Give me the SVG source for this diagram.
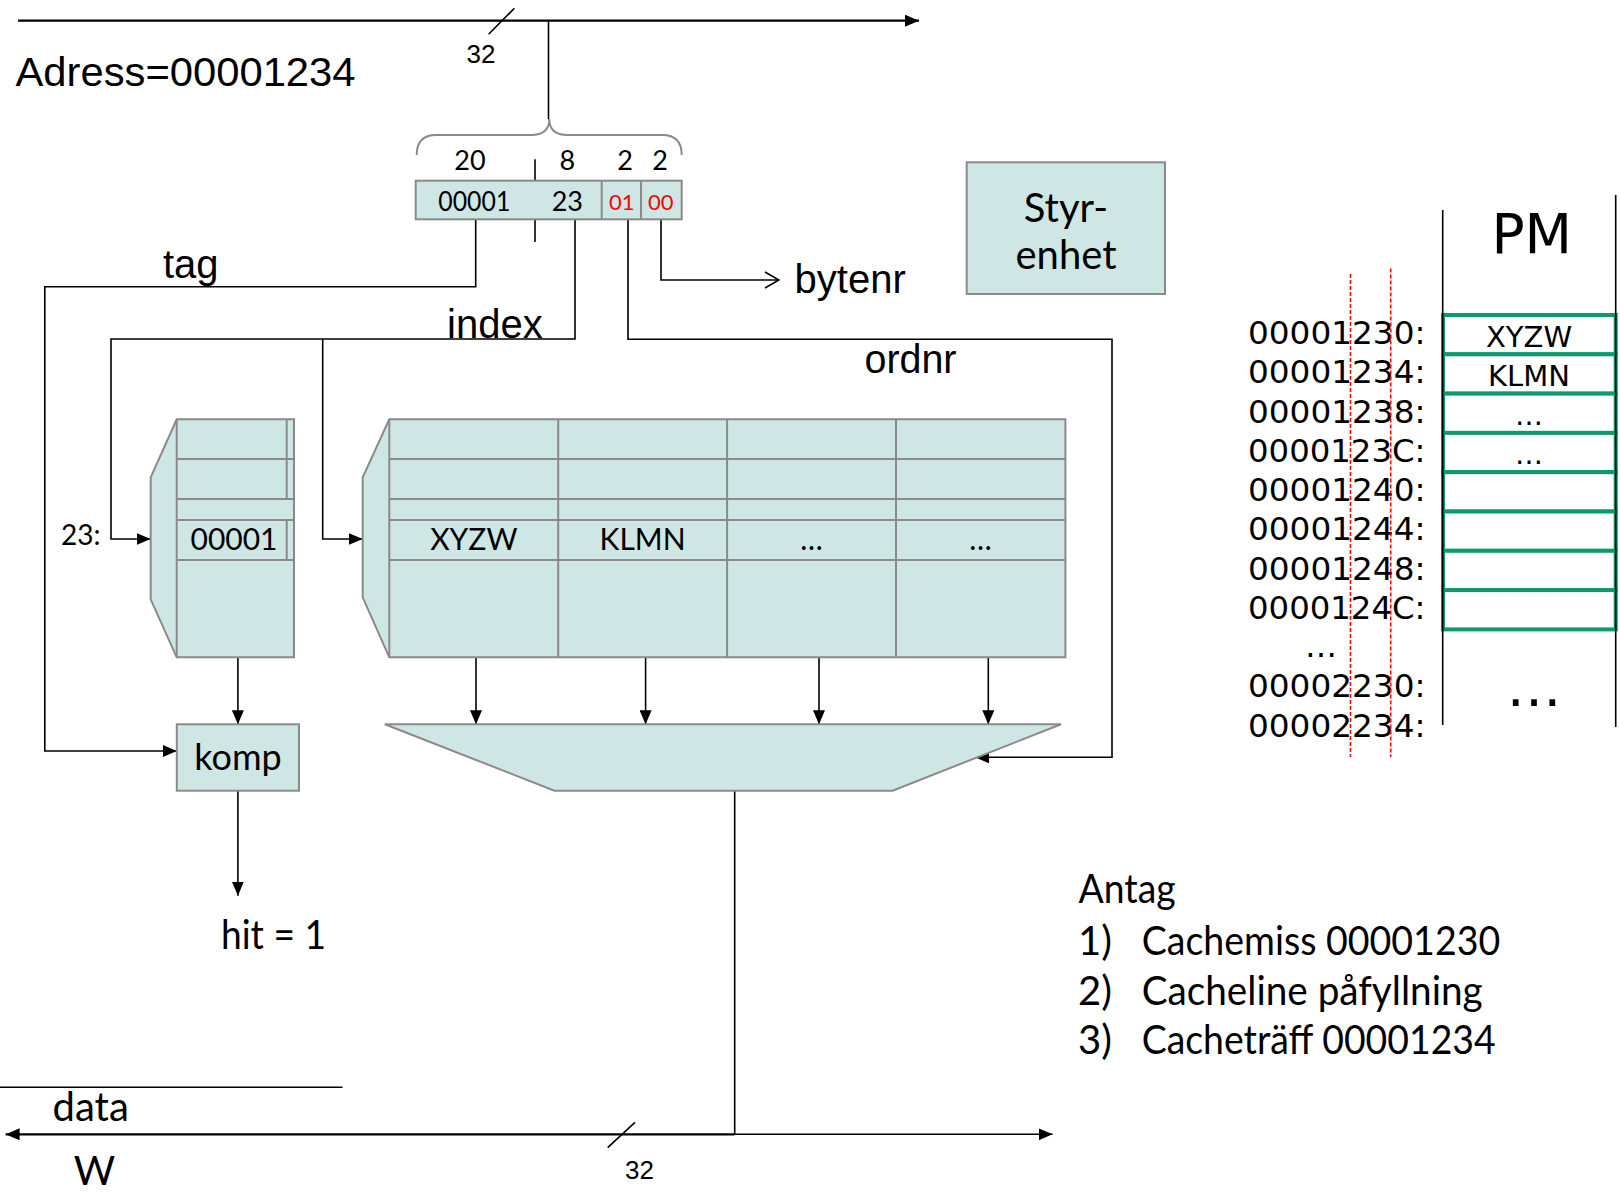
<svg xmlns="http://www.w3.org/2000/svg" width="1620" height="1192" viewBox="0 0 1620 1192">
<style>
.box{fill:#cfe7e4;stroke:#8a8a8a;stroke-width:2}
.grid{fill:none;stroke:#8a8a8a;stroke-width:2}
.ln{fill:none;stroke:#000;stroke-width:1.6}
.bus{fill:none;stroke:#000;stroke-width:2.2}
.ar{font-family:"Liberation Sans",Arial,sans-serif;fill:#000}
.ca{font-family:Lato,"Open Sans",sans-serif;fill:#000}
.ve{font-family:"DejaVu Sans",Verdana,sans-serif;fill:#000}
.red{fill:#ff0000}
.gr{fill:#fff;stroke:#0a9a6e;stroke-width:4}
.dash{stroke:#ff0000;stroke-width:1.6;stroke-dasharray:4 2;fill:none}
.mid{text-anchor:middle}
</style>
<defs>
<marker id="ah" viewBox="0 0 14 12" refX="14" refY="6" markerWidth="14" markerHeight="12" markerUnits="userSpaceOnUse" orient="auto-start-reverse"><path d="M0,0 L14,6 L0,12 z" fill="#000"/></marker>
<marker id="chev" viewBox="0 0 16 18" refX="15" refY="9" markerWidth="16" markerHeight="18" markerUnits="userSpaceOnUse" orient="auto"><path d="M1,1 L15,9 L1,17" fill="none" stroke="#000" stroke-width="1.6"/></marker>
</defs>
<rect width="1620" height="1192" fill="#fff"/>

<g id="connectors">
<line class="bus" x1="18" y1="20.7" x2="919" y2="20.7" marker-end="url(#ah)"/>
<line class="ln" x1="488.6" y1="34.3" x2="514.4" y2="8.3"/>
<line class="ln" x1="548.5" y1="20.7" x2="548.5" y2="119"/>
<line class="ln" x1="535" y1="159.3" x2="535" y2="242"/>
<path class="ln" d="M475.7,219.3 V286.7 H44.8 V751 H176.8" marker-end="url(#ah)"/>
<path class="ln" d="M575,219.3 V339 H111 V539 H150.7" marker-end="url(#ah)"/>
<path class="ln" d="M322.7,339 V539 H362.7" marker-end="url(#ah)"/>
<path class="ln" d="M628,219.3 V339.3 H1112 V757.3 H975" marker-end="url(#ah)"/>
<path class="ln" d="M661,219.3 V280 H779" marker-end="url(#chev)"/>
<line class="ln" x1="237.9" y1="657.3" x2="237.9" y2="724.3" marker-end="url(#ah)"/>
<line class="ln" x1="237.9" y1="790.7" x2="237.9" y2="895.7" marker-end="url(#ah)"/>
<line class="ln" x1="476" y1="657.3" x2="476" y2="724.3" marker-end="url(#ah)"/>
<line class="ln" x1="645.6" y1="657.3" x2="645.6" y2="724.3" marker-end="url(#ah)"/>
<line class="ln" x1="819" y1="657.3" x2="819" y2="724.3" marker-end="url(#ah)"/>
<line class="ln" x1="988.3" y1="657.3" x2="988.3" y2="724.3" marker-end="url(#ah)"/>
<line class="ln" x1="734.7" y1="790.7" x2="734.7" y2="1134.3"/>
<line class="bus" x1="5.6" y1="1134.3" x2="734.7" y2="1134.3" marker-start="url(#ah)"/>
<line class="ln" x1="734.7" y1="1134.3" x2="1052.6" y2="1134.3" marker-end="url(#ah)"/>
<line class="ln" x1="607.7" y1="1147.7" x2="635" y2="1122.3"/>
<line class="ln" x1="0" y1="1087.3" x2="342.5" y2="1087.3"/>
</g>

<g id="brace">
<path d="M416.7,155 Q416.7,135 436,135 H531 Q549.3,135 549.3,119 Q549.3,135 567.6,135 H662.4 Q681.7,135 681.7,155" fill="none" stroke="#8a8a8a" stroke-width="2"/>
</g>

<g id="address-field">
<rect class="box" x="415.7" y="180.7" width="266" height="38.6"/>
<line class="grid" x1="601.7" y1="180.7" x2="601.7" y2="219.3"/>
<line class="grid" x1="641" y1="180.7" x2="641" y2="219.3"/>
<text class="ca mid" x="470" y="170" font-size="27">20</text>
<text class="ca mid" x="567.3" y="170" font-size="27">8</text>
<text class="ca mid" x="625" y="170" font-size="27">2</text>
<text class="ca mid" x="660" y="170" font-size="27">2</text>
<text class="ca mid" x="474.3" y="210.7" font-size="27" textLength="72" lengthAdjust="spacingAndGlyphs">00001</text>
<text class="ca mid" x="567.3" y="210.7" font-size="27">23</text>
<text class="ca mid red" x="621.7" y="209.5" font-size="22">01</text>
<text class="ca mid red" x="660.7" y="209.5" font-size="22">00</text>
</g>

<g id="styrenhet">
<rect class="box" x="966.7" y="162.3" width="198.3" height="131.7"/>
<text class="ca mid" x="1066" y="222" font-size="40">Styr-</text>
<text class="ca mid" x="1066" y="268.5" font-size="40">enhet</text>
</g>

<g id="tag-memory">
<path class="box" d="M150.7,477.3 L176.7,419.3 H294 V657.3 H176.7 L150.7,599.3 Z"/>
<path class="grid" d="M176.7,419.3 V657.3 M176.7,459 H294 M176.7,499 H294 M176.7,520 H294 M176.7,560 H294 M286.7,419.3 V499 M286.7,520 V560"/>
<text class="ca mid" x="234" y="550" font-size="30">00001</text>
</g>

<g id="data-memory">
<path class="box" d="M362.7,477.3 L389.3,419.3 H1065.4 V657.3 H389.3 L362.7,597.3 Z"/>
<path class="grid" d="M389.3,419.3 V657.3 M558.2,419.3 V657.3 M727.1,419.3 V657.3 M896,419.3 V657.3 M389.3,459 H1065.4 M389.3,499 H1065.4 M389.3,520 H1065.4 M389.3,560 H1065.4"/>
<text class="ca mid" x="473.8" y="550" font-size="30">XYZW</text>
<text class="ca mid" x="642.6" y="550" font-size="30">KLMN</text>
<text class="ca mid" x="811.5" y="550" font-size="30">…</text>
<text class="ca mid" x="980.5" y="550" font-size="30">…</text>
</g>

<g id="komp">
<rect class="box" x="176.8" y="724.3" width="122.2" height="66.4"/>
<text class="ca mid" x="238" y="770" font-size="36">komp</text>
</g>

<g id="mux">
<path class="box" d="M384.8,724.3 H1061 L892.6,790.7 H554.5 Z"/>
</g>

<g id="pm">
<rect class="gr" x="1443" y="315" width="172.7" height="39.3"/>
<rect class="gr" x="1443" y="354.3" width="172.7" height="39.3"/>
<rect class="gr" x="1443" y="393.6" width="172.7" height="39.3"/>
<rect class="gr" x="1443" y="432.9" width="172.7" height="39.3"/>
<rect class="gr" x="1443" y="472.2" width="172.7" height="39.3"/>
<rect class="gr" x="1443" y="511.5" width="172.7" height="39.3"/>
<rect class="gr" x="1443" y="550.8" width="172.7" height="39.3"/>
<rect class="gr" x="1443" y="590.1" width="172.7" height="39.3"/>
<line x1="1442.7" y1="210" x2="1442.7" y2="725" stroke="#000" stroke-width="1.6"/>
<line x1="1615.7" y1="195" x2="1615.7" y2="727" stroke="#000" stroke-width="1.6"/>
<text class="ve mid" x="1531.7" y="253.3" font-size="55">PM</text>
<text class="ve mid" x="1529" y="346.5" font-size="29">XYZW</text>
<text class="ve mid" x="1529" y="386" font-size="29">KLMN</text>
<text class="ve mid" x="1529" y="425" font-size="28">…</text>
<text class="ve mid" x="1529" y="464" font-size="28">…</text>
<text class="ve mid" x="1534" y="706" font-size="55">…</text>
</g>

<g id="pm-addresses">
<text class="ve" x="1248" y="344" font-size="32" textLength="177.5" lengthAdjust="spacingAndGlyphs">00001230:</text>
<text class="ve" x="1248" y="383.3" font-size="32" textLength="177.5" lengthAdjust="spacingAndGlyphs">00001234:</text>
<text class="ve" x="1248" y="422.5" font-size="32" textLength="177.5" lengthAdjust="spacingAndGlyphs">00001238:</text>
<text class="ve" x="1248" y="461.7" font-size="32" textLength="177.5" lengthAdjust="spacingAndGlyphs">0000123C:</text>
<text class="ve" x="1248" y="501" font-size="32" textLength="177.5" lengthAdjust="spacingAndGlyphs">00001240:</text>
<text class="ve" x="1248" y="540.3" font-size="32" textLength="177.5" lengthAdjust="spacingAndGlyphs">00001244:</text>
<text class="ve" x="1248" y="579.5" font-size="32" textLength="177.5" lengthAdjust="spacingAndGlyphs">00001248:</text>
<text class="ve" x="1248" y="618.8" font-size="32" textLength="177.5" lengthAdjust="spacingAndGlyphs">0000124C:</text>
<text class="ve" x="1305" y="657" font-size="32">…</text>
<text class="ve" x="1248" y="697.3" font-size="32" textLength="177.5" lengthAdjust="spacingAndGlyphs">00002230:</text>
<text class="ve" x="1248" y="736.6" font-size="32" textLength="177.5" lengthAdjust="spacingAndGlyphs">00002234:</text>
<line class="dash" x1="1350.5" y1="274" x2="1350.5" y2="757"/>
<line class="dash" x1="1390.7" y1="268.5" x2="1390.7" y2="757"/>
</g>

<g id="labels">
<text class="ar" x="15.5" y="86" font-size="40" textLength="340" lengthAdjust="spacingAndGlyphs">Adress=00001234</text>
<text class="ar mid" x="481" y="63" font-size="26">32</text>
<text class="ar" x="163" y="278" font-size="40">tag</text>
<text class="ar" x="447" y="337.5" font-size="40">index</text>
<text class="ar" x="794.6" y="293.3" font-size="40">bytenr</text>
<text class="ar" x="864.5" y="373.3" font-size="40" textLength="92" lengthAdjust="spacingAndGlyphs">ordnr</text>
<text class="ca" x="61" y="545" font-size="28">23:</text>
<text class="ca" x="221" y="949.3" font-size="40" textLength="105" lengthAdjust="spacingAndGlyphs">hit = 1</text>
<text class="ca" x="52.6" y="1121" font-size="40">data</text>
<text class="ca" x="73.7" y="1185" font-size="40">W</text>
<text class="ar mid" x="639.5" y="1179" font-size="26">32</text>
<text class="ca" x="1078.6" y="903.3" font-size="40" textLength="97" lengthAdjust="spacingAndGlyphs">Antag</text>
<text class="ca" x="1078" y="955" font-size="40">1)</text>
<text class="ca" x="1141.7" y="955" font-size="40" textLength="358.5" lengthAdjust="spacingAndGlyphs">Cachemiss 00001230</text>
<text class="ca" x="1078" y="1005" font-size="40">2)</text>
<text class="ca" x="1141.7" y="1005" font-size="40" textLength="341" lengthAdjust="spacingAndGlyphs">Cacheline påfyllning</text>
<text class="ca" x="1078" y="1054" font-size="40">3)</text>
<text class="ca" x="1141.7" y="1054" font-size="40" textLength="354" lengthAdjust="spacingAndGlyphs">Cacheträff 00001234</text>
</g>
</svg>
